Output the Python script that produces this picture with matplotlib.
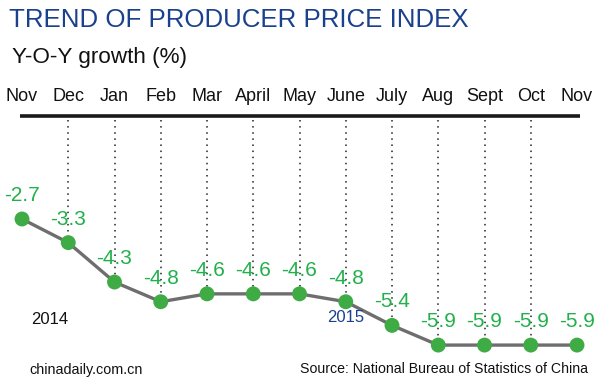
import matplotlib
matplotlib.use("Agg")
import matplotlib.pyplot as plt

plt.rcParams['font.family'] = ['Liberation Sans', 'DejaVu Sans']

months = ['Nov', 'Dec', 'Jan', 'Feb', 'Mar', 'April', 'May', 'June',
          'July', 'Aug', 'Sept', 'Oct', 'Nov']
ppi = [-2.7, -3.3, -4.3, -4.8, -4.6, -4.6, -4.6, -4.8, -5.4, -5.9, -5.9, -5.9, -5.9]

title_blue = '#1a408e'
green = '#21b04b'
marker_green = '#3eab45'
line_gray = '#6e6e6e'

fig = plt.figure(figsize=(6, 3.85), dpi=100)
ax = fig.add_axes([0, 0, 1, 1])
ax.set_xlim(-0.476, 12.497)
ax.set_ylim(-6.913, 2.858)
ax.axis('off')

x = list(range(len(months)))

# top rule and month labels
ax.plot([-0.043, 12.06], [-0.086, -0.086], color='#1a1a1a', lw=2.6, solid_capstyle='butt')
for i, m in enumerate(months):
    ax.text(i, 0.40, m, ha='center', va='center', fontsize=13, color='#111111')

# dotted guides down to each point
for i in x[1:-1]:
    ax.plot([i, i], [-0.19, ppi[i]], color='#222222', lw=1.1, ls=(0, (1, 3)), zorder=1)

ax.plot(x, ppi, color=line_gray, lw=2.4, zorder=2)
ax.scatter(x, ppi, s=115, color=marker_green, edgecolors='none', zorder=3)

for i, v in zip(x, ppi):
    ax.annotate('%.1f' % v, (i, v), xytext=(0, 17), textcoords='offset points',
                ha='center', va='center', fontsize=15, color=green, zorder=4)

ax.text(0.6, -5.24, '2014', ha='center', va='center', fontsize=12, color='#111111')
ax.text(7.0, -5.19, '2015', ha='center', va='center', fontsize=12, color=title_blue)

fig.text(9 / 600, 1 - 20 / 385, 'TREND OF PRODUCER PRICE INDEX', ha='left', va='center',
         fontsize=18.6, color=title_blue)
fig.text(12 / 600, 1 - 57 / 385, 'Y-O-Y growth (%)', ha='left', va='center',
         fontsize=16.2, color='#111111')
fig.text(29 / 600, 1 - 370 / 385, 'chinadaily.com.cn', ha='left', va='center',
         fontsize=10.4, color='#111111')
fig.text(588 / 600, 1 - 369 / 385, 'Source: National Bureau of Statistics of China',
         ha='right', va='center', fontsize=10.2, color='#111111')

fig.savefig('out.png', dpi=100, facecolor='white')
